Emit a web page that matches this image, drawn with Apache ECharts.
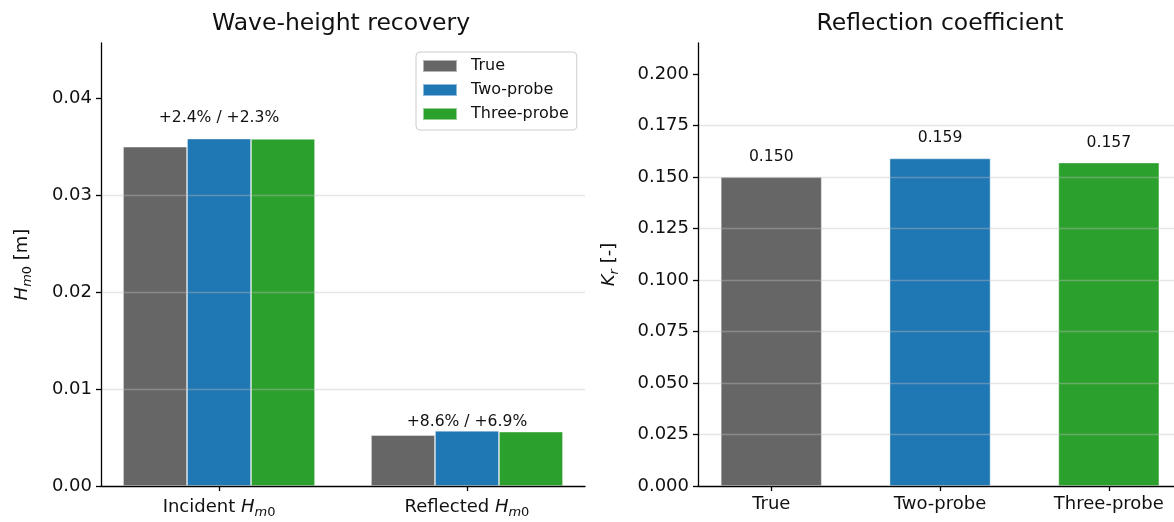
<!DOCTYPE html>
<html>
<head>
<meta charset="utf-8">
<title>Wave-height recovery and reflection coefficient</title>
<script src="https://cdn.jsdelivr.net/npm/echarts@6/dist/echarts.min.js"></script>
<style>
  html, body { margin: 0; padding: 0; background: #fff; }
  #chart { width: 1174px; height: 522px; }
</style>
</head>
<body>
<div id="chart"></div>
<script>
// Spectral wave heights (m) per component, for each estimation method
const components = ['Incident', 'Reflected'];
const methods = ['True', 'Two-probe', 'Three-probe'];
const hTrue = [0.0350, 0.00525];
const hTwoProbe = [0.03584, 0.00570];
const hThreeProbe = [0.03581, 0.00561];
// Relative error annotations above each group
const errorNotes = ['+2.4% / +2.3%', '+8.6% / +6.9%'];

// Reflection coefficient per method
const krValues = [0.150, 0.159, 0.157];

// Axis ticks
const hTicks = [0, 0.01, 0.02, 0.03, 0.04];
const krTicks = [0, 0.025, 0.05, 0.075, 0.1, 0.125, 0.15, 0.175, 0.2];

const colors = ['#666666', '#1f77b4', '#2ca02c'];
const FONT = 'DejaVu Sans';
const INK = '#111';

const chart = echarts.init(document.getElementById('chart'), null, { renderer: 'canvas' });

const subRich = {
  n: { fontFamily: FONT, fontSize: 18, color: INK, lineHeight: 24 },
  i: { fontFamily: FONT, fontSize: 18, color: INK, fontStyle: 'italic', lineHeight: 24 },
  si: { fontFamily: FONT, fontSize: 13, color: INK, fontStyle: 'italic', verticalAlign: 'bottom' },
  s: { fontFamily: FONT, fontSize: 13, color: INK, verticalAlign: 'bottom' }
};

const axisLineStyle = { color: '#000', width: 1.3 };
const gridLineStyle = { color: 'rgba(190,190,190,0.4)', width: 1.3 };

const methodSeries = [hTrue, hTwoProbe, hThreeProbe].map((vals, k) => ({
  name: methods[k],
  type: 'bar',
  xAxisIndex: 0,
  yAxisIndex: 0,
  barWidth: 64,
  barGap: '0%',
  itemStyle: { color: colors[k], borderColor: 'rgba(255,255,255,0.5)', borderWidth: 0.8 },
  data: vals.map((v, i) => [i, v])
}));

// Annotation anchors sit just above the tallest bar of each group
const noteAnchors = components.map((c, i) =>
  [i, Math.max(hTrue[i], hTwoProbe[i], hThreeProbe[i]) * 1.04]);

const option = {
  animation: false,
  backgroundColor: '#ffffff',
  textStyle: { fontFamily: FONT },
  title: [
    { text: 'Wave-height recovery', left: 336, top: 7, textAlign: 'center',
      textStyle: { fontFamily: FONT, fontSize: 23.5, fontWeight: 'normal', color: INK } },
    { text: 'Reflection coefficient', left: 935, top: 7, textAlign: 'center',
      textStyle: { fontFamily: FONT, fontSize: 23.5, fontWeight: 'normal', color: INK } }
  ],
  legend: {
    data: methods,
    left: 416,
    top: 52,
    orient: 'vertical',
    itemWidth: 34,
    itemHeight: 12,
    itemGap: 6,
    icon: 'rect',
    padding: [5, 8, 7, 6],
    borderColor: '#cccccc',
    borderWidth: 1,
    borderRadius: 4,
    backgroundColor: 'rgba(255,255,255,0.8)',
    textStyle: { fontFamily: FONT, fontSize: 16, color: INK, lineHeight: 18, padding: [0, 0, 0, 9] }
  },
  grid: [
    { left: 101, top: 43, width: 484, height: 443 },
    // right panel runs off the page edge; the axis range is cut to the visible part
    { left: 698, top: 43, right: 0, height: 443 }
  ],
  xAxis: [
    {
      type: 'value', gridIndex: 0, min: -0.476, max: 1.476, z: 4,
      axisLine: { show: true, onZero: false, lineStyle: axisLineStyle },
      axisTick: { show: true, customValues: [0, 1], length: 5, lineStyle: axisLineStyle },
      axisLabel: {
        customValues: [0, 1], margin: 9,
        formatter: v => '{n|' + components[Math.round(v)] + ' }{i|H}{si|m}{s|0}',
        rich: subRich
      },
      splitLine: { show: false }
    },
    {
      type: 'value', gridIndex: 1, min: -0.434, max: 2.386, z: 4,
      axisLine: { show: true, onZero: false, lineStyle: axisLineStyle },
      axisTick: { show: true, customValues: [0, 1, 2], length: 5, lineStyle: axisLineStyle },
      axisLabel: {
        customValues: [0, 1, 2], margin: 9,
        formatter: v => methods[Math.round(v)],
        fontFamily: FONT, fontSize: 18, color: INK
      },
      splitLine: { show: false }
    }
  ],
  yAxis: [
    {
      type: 'value', gridIndex: 0, min: 0, max: 0.0457, interval: 0.01, z: 4,
      name: '{i|H}{si|m}{s|0}{n| [m]}',
      nameLocation: 'middle', nameRotate: 90, nameGap: 67,
      nameTextStyle: { rich: subRich },
      axisLine: { show: true, onZero: false, lineStyle: axisLineStyle },
      axisTick: { show: true, customValues: hTicks, length: 5, lineStyle: axisLineStyle },
      axisLabel: { customValues: hTicks, formatter: v => v.toFixed(2), fontFamily: FONT, fontSize: 18, color: INK, margin: 9 },
      splitLine: { show: true, showMinLine: false, showMaxLine: false, lineStyle: gridLineStyle }
    },
    {
      type: 'value', gridIndex: 1, min: 0, max: 0.215, interval: 0.025, z: 4,
      name: '{i|K}{si|r}{n| [-]}',
      nameLocation: 'middle', nameRotate: 90, nameGap: 77,
      nameTextStyle: { rich: subRich },
      axisLine: { show: true, onZero: false, lineStyle: axisLineStyle },
      axisTick: { show: true, customValues: krTicks, length: 5, lineStyle: axisLineStyle },
      axisLabel: { customValues: krTicks, formatter: v => v.toFixed(3), fontFamily: FONT, fontSize: 18, color: INK, margin: 9 },
      splitLine: { show: true, showMinLine: false, showMaxLine: false, lineStyle: gridLineStyle }
    }
  ],
  series: [
    ...methodSeries,
    {
      name: 'notes',
      type: 'scatter',
      xAxisIndex: 0,
      yAxisIndex: 0,
      symbolSize: 0,
      silent: true,
      z: 5,
      itemStyle: { opacity: 1 },
      data: noteAnchors,
      label: {
        show: true, position: 'top', distance: -1, opacity: 1,
        formatter: p => errorNotes[p.dataIndex],
        fontFamily: FONT, fontSize: 15.6, color: INK
      }
    },
    {
      name: 'Kr',
      type: 'bar',
      xAxisIndex: 1,
      yAxisIndex: 1,
      barWidth: 101,
      data: krValues.map((v, i) => ({
        value: [i, v],
        itemStyle: { color: colors[i], borderColor: 'rgba(255,255,255,0.5)', borderWidth: 0.8 }
      })),
      label: {
        show: true, position: 'top', distance: 12,
        formatter: p => p.value[1].toFixed(3),
        fontFamily: FONT, fontSize: 15.6, color: INK
      }
    }
  ]
};

chart.setOption(option);
</script>
</body>
</html>
